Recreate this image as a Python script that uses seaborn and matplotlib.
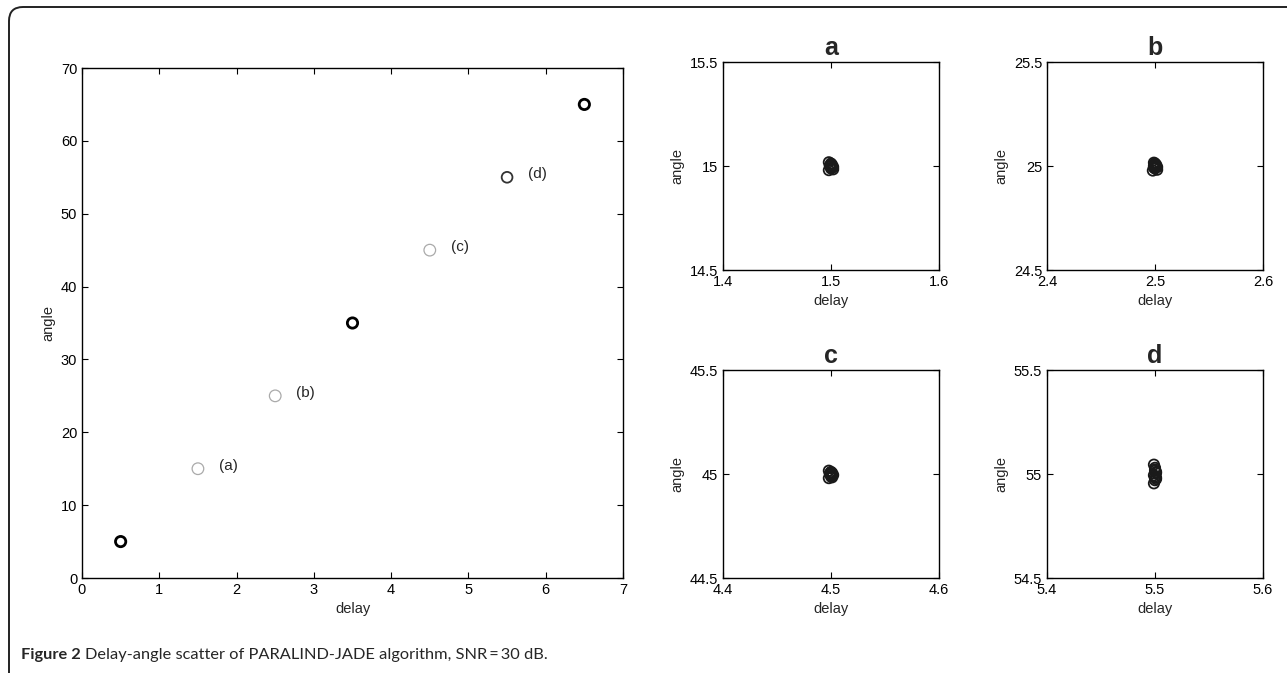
import numpy as np
import pandas as pd
import seaborn as sns
import matplotlib.pyplot as plt
from matplotlib.patches import FancyBboxPatch
from matplotlib.transforms import IdentityTransform

# main scatter: one estimated point per source
delays = [0.5, 1.5, 2.5, 3.5, 4.5, 5.5, 6.5]
angles = [5, 15, 25, 35, 45, 55, 65]
point_labels = ["", "(a)", "(b)", "", "(c)", "(d)", ""]

# zoomed clusters (estimated spread of the estimates around each source)
panel_names = ["a", "b", "c", "d"]
panel_delay = [1.5, 2.5, 4.5, 5.5]
panel_angle = [15, 25, 45, 55]
offs_delay = {
    "a": [-0.002, 0.0, 0.002, -0.001, 0.001, 0.0, -0.002, 0.002, 0.0, 0.001, -0.001, 0.0],
    "b": [-0.002, 0.0, 0.002, -0.001, 0.001, 0.0, -0.001, 0.002, 0.0, -0.001, 0.001, 0.0],
    "c": [-0.002, 0.0, 0.002, -0.001, 0.001, 0.0, -0.002, 0.001, 0.0, 0.001, -0.001, 0.0],
    "d": [-0.001, 0.0, 0.001, -0.001, 0.001, 0.0, 0.0, -0.001, 0.001, 0.0, 0.0, 0.001],
}
offs_angle = {
    "a": [-0.02, -0.012, -0.005, 0.0, 0.005, 0.012, 0.018, -0.016, 0.008, -0.008, 0.002, -0.002],
    "b": [-0.022, -0.012, -0.005, 0.0, 0.006, 0.012, 0.016, -0.018, 0.008, -0.008, 0.002, -0.003],
    "c": [-0.02, -0.012, -0.005, 0.0, 0.005, 0.01, 0.016, -0.016, 0.008, -0.008, 0.002, -0.002],
    "d": [-0.045, -0.03, -0.018, -0.006, 0.005, 0.016, 0.03, 0.045, -0.024, 0.022, -0.012, 0.01],
}

sns.set_style("ticks")
plt.rcParams['font.family'] = ['Liberation Sans', 'DejaVu Sans']
plt.rcParams['xtick.direction'] = 'in'
plt.rcParams['ytick.direction'] = 'in'

W, H = 1287, 673
fig = plt.figure(figsize=(12.87, 6.73), dpi=100)

# outer rounded frame (open at the bottom and right, as in the page layout)
frame = FancyBboxPatch((9, -40), 1400, H - 7 + 40, boxstyle="round,pad=0,rounding_size=14",
                       transform=IdentityTransform(), fill=False, ec="#222222", lw=1.4, clip_on=False)
fig.patches.append(frame)

def box(l, t, r, b):
    return [l / W, 1 - b / H, (r - l) / W, (b - t) / H]

def matlab_box(ax):
    for s in ax.spines.values():
        s.set_visible(True)
        s.set_linewidth(1.0)
        s.set_color("black")
    ax.tick_params(top=True, right=True, labelsize=10.5, length=4, width=0.8, colors="black")

# main panel
ax = fig.add_axes(box(82, 68, 623, 578))
main = pd.DataFrame({"delay": delays, "angle": angles})
styles = [("black", 2.0, 55), ("#aaaaaa", 0.9, 70), ("#aaaaaa", 0.9, 70), ("black", 2.0, 55),
          ("#aaaaaa", 0.9, 70), ("#333333", 1.3, 60), ("black", 2.0, 55)]
for i, (col, lw, s) in enumerate(styles):
    sns.scatterplot(data=main.iloc[[i]], x="delay", y="angle", ax=ax, marker="o",
                    facecolor="none", edgecolor=col, linewidth=lw, s=s)
for d, a, lab in zip(delays, angles, point_labels):
    if lab:
        ax.text(d + 0.27, a + 0.4, lab, fontsize=11, ha="left", va="center")
ax.set_xlim(0, 7)
ax.set_ylim(0, 70)
ax.set_xlabel("delay", fontsize=10.5)
ax.set_ylabel("angle", fontsize=10.5)
matlab_box(ax)

# small panels
rects = [(723, 62, 939, 270), (1047, 62, 1263, 270), (723, 370, 939, 578), (1047, 370, 1263, 578)]
for name, d0, a0, rc in zip(panel_names, panel_delay, panel_angle, rects):
    axp = fig.add_axes(box(*rc))
    df = pd.DataFrame({"delay": d0 + np.array(offs_delay[name]),
                       "angle": a0 + np.array(offs_angle[name])})
    sns.scatterplot(data=df, x="delay", y="angle", ax=axp, marker="o",
                    facecolor="none", edgecolor="#1a1a1a", linewidth=1.3, s=55)
    axp.set_xlim(d0 - 0.1, d0 + 0.1)
    axp.set_ylim(a0 - 0.5, a0 + 0.5)
    axp.set_xticks([d0 - 0.1, d0, d0 + 0.1])
    axp.set_xticklabels([f"{d0 - 0.1:.1f}", f"{d0:.1f}", f"{d0 + 0.1:.1f}"])
    axp.set_yticks([a0 - 0.5, a0, a0 + 0.5])
    axp.set_yticklabels([f"{a0 - 0.5:.1f}", f"{a0:g}", f"{a0 + 0.5:.1f}"])
    axp.set_xlabel("delay", fontsize=10.5)
    axp.set_ylabel("angle", fontsize=10.5)
    axp.set_title(name, fontsize=18, fontweight="bold", pad=5)
    matlab_box(axp)

# caption
cap_y = 1 - 655 / H
cap_font = ["Lato", "DejaVu Sans"]
t1 = fig.text(21 / W, cap_y, "Figure 2", fontsize=11.8, fontweight="bold",
              family=cap_font, va="center", ha="left")
fig.canvas.draw()
bb = t1.get_window_extent(renderer=fig.canvas.get_renderer())
fig.text((bb.x1 + 4) / W, cap_y, "Delay-angle scatter of PARALIND-JADE algorithm, SNR\u2009=\u200930 dB.",
         fontsize=11.8, family=cap_font, va="center", ha="left")

fig.savefig("out.png", dpi=100)
